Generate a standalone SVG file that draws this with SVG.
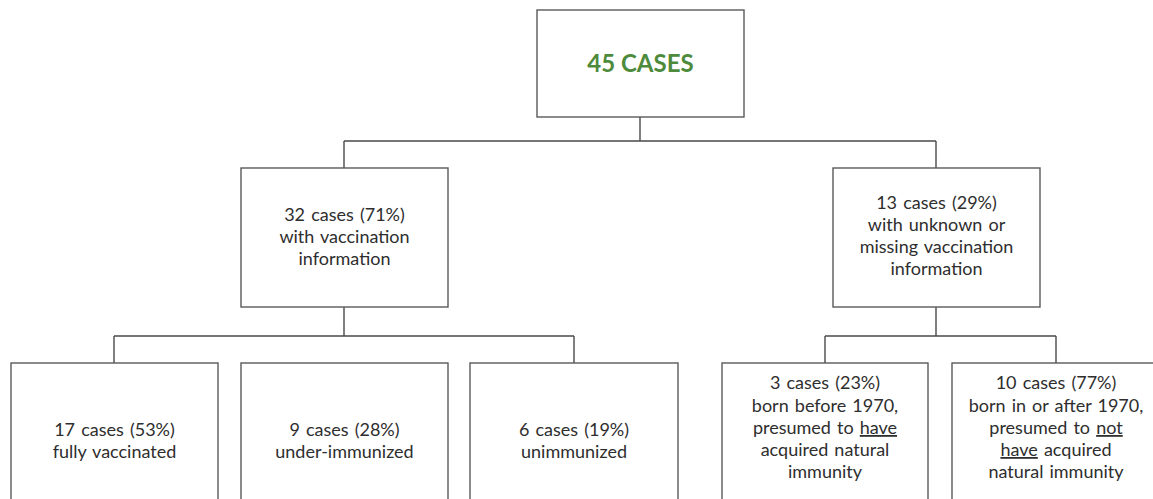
<svg xmlns="http://www.w3.org/2000/svg" width="1153" height="499" viewBox="0 0 1153 499">
<style>
.box{fill:#fff;stroke:#5a5a5a;stroke-width:1.4}
.ln{fill:none;stroke:#4a4a4a;stroke-width:1.4}
text{font-family:Lato,"Noto Sans",sans-serif;font-size:18px;word-spacing:1.5px;fill:#2e2e2e;text-anchor:middle}
.title{font-size:24px;font-weight:bold;word-spacing:0;fill:#4e8a3c}
.u{text-decoration:underline}
</style>
<rect width="1153" height="499" fill="#fff"/>
<g id="connectors">
<path class="ln" d="M640 117V141M344 141H936M344 141V168M936 141V168"/>
<path class="ln" d="M344 307V336M114 336H574M114 336V363M574 336V363"/>
<path class="ln" d="M936 307V336M825 336H1056M825 336V363M1056 336V363"/>
</g>
<g id="n-total">
<rect class="box" x="537" y="10" width="207" height="107"/>
<text class="title" x="640.5" y="72">45 CASES</text>
</g>
<g id="n-with">
<rect class="box" x="241" y="168" width="207" height="139"/>
<text x="344.5" y="221">32 cases (71%)</text>
<text x="344.5" y="243">with vaccination</text>
<text x="344.5" y="265">information</text>
</g>
<g id="n-unknown">
<rect class="box" x="833" y="168" width="207" height="139"/>
<text x="936.5" y="209">13 cases (29%)</text>
<text x="936.5" y="231">with unknown or</text>
<text x="936.5" y="253">missing vaccination</text>
<text x="936.5" y="275">information</text>
</g>
<g id="n-full">
<rect class="box" x="11" y="363" width="207" height="145"/>
<text x="114.5" y="436">17 cases (53%)</text>
<text x="114.5" y="458">fully vaccinated</text>
</g>
<g id="n-under">
<rect class="box" x="241" y="363" width="207" height="145"/>
<text x="344.5" y="436">9 cases (28%)</text>
<text x="344.5" y="458">under-immunized</text>
</g>
<g id="n-unimm">
<rect class="box" x="470" y="363" width="208" height="145"/>
<text x="574" y="436">6 cases (19%)</text>
<text x="574" y="458">unimmunized</text>
</g>
<g id="n-before">
<rect class="box" x="722" y="363" width="206" height="145"/>
<text x="825" y="389">3 cases (23%)</text>
<text x="825" y="412">born before 1970,</text>
<text x="825" y="434">presumed to <tspan class="u">have</tspan></text>
<text x="825" y="456">acquired natural</text>
<text x="825" y="478">immunity</text>
</g>
<g id="n-after">
<rect class="box" x="952" y="363" width="208" height="145"/>
<text x="1056" y="389">10 cases (77%)</text>
<text x="1056" y="412">born in or after 1970,</text>
<text x="1056" y="434">presumed to <tspan class="u">not</tspan></text>
<text x="1056" y="456"><tspan class="u">have</tspan> acquired</text>
<text x="1056" y="478">natural immunity</text>
</g>
</svg>
